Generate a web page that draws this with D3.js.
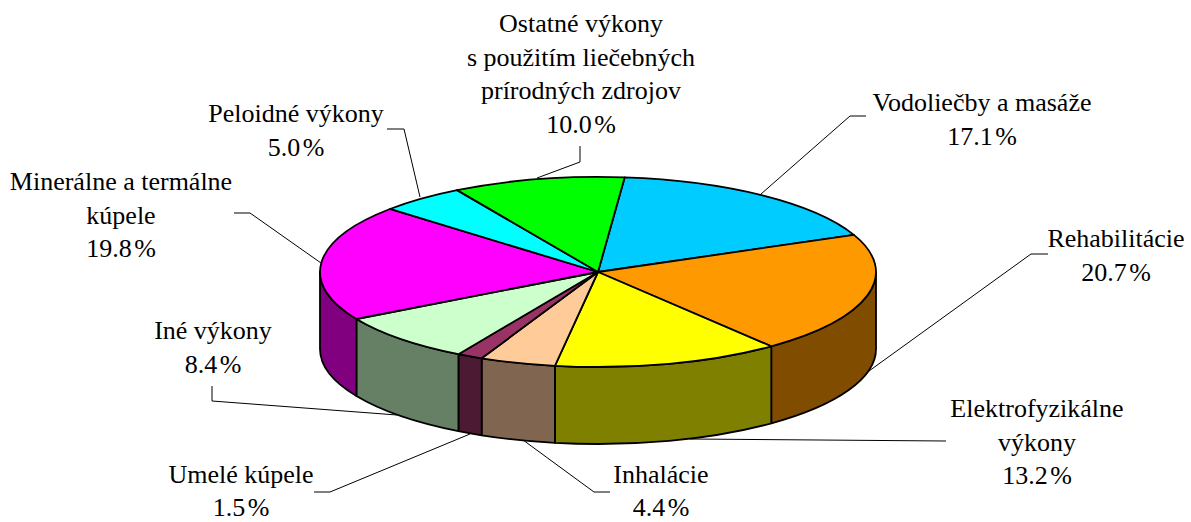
<!DOCTYPE html>
<html>
<head>
<meta charset="utf-8">
<script src="https://cdn.jsdelivr.net/npm/d3@7"></script>
<style>
	html, body { margin: 0; background: #fff; }
	svg { display: block; }
	text { font-family: "Liberation Serif", serif; font-size: 26px; fill: #000; text-anchor: middle; }
	.value { word-spacing: -4px; }
</style>
</head>
<body>
<div id="chart"></div>
<script>
	var names = [
		['Vodoliečby a masáže'],
		['Rehabilitácie'],
		['Elektrofyzikálne', 'výkony'],
		['Inhalácie'],
		['Umelé kúpele'],
		['Iné výkony'],
		['Minerálne a termálne', 'kúpele'],
		['Peloidné výkony'],
		['Ostatné výkony', 's použitím liečebných', 'prírodných zdrojov']
	];
	var values = [17.1, 20.7, 13.2, 4.4, 1.5, 8.4, 19.8, 5.0, 10.0];
	var topColors = ['#00ccff', '#ff9900', '#ffff00', '#ffcc99', '#993366', '#ccffcc', '#ff00ff', '#00ffff', '#00ff00'];
	var sideColors = ['#006680', '#804d00', '#808000', '#806650', '#4d1a33', '#668066', '#800080', '#008080', '#008000'];

	// label centre x, first baseline, then the leader line
	var labelX = [982, 1116, 1037, 661, 241, 213, 121, 296, 581];
	var labelY = [111, 247, 417, 482.5, 482.5, 339, 190, 122, 32];
	var leaders = [
		[[866, 116], [850, 116], [761, 194]],
		[[1048, 254], [1031, 254], [869, 371]],
		[[946, 441], [690, 439]],
		[[610, 492], [594, 492], [523, 440]],
		[[314, 492], [330, 492], [470, 434]],
		[[212, 386], [212, 401], [397, 415]],
		[[234, 213], [250, 213], [321, 263]],
		[[387, 129], [404, 129], [420, 197]],
		[[580, 146], [580, 162], [537, 178]]
	];

	var width = 1191,
		height = 522,
		lineHeight = 33.7;
	var pieBox = { cx: 598, cy: 272, rx: 278, ry: 95, depth: 77 };
	var rimWidth = 1.8;
	var start = 5.5 * Math.PI / 180;

	var svg = d3.select('#chart')
		.append('svg')
		.attr('width', width)
		.attr('height', height);

	var slices = d3.pie()
		.sort(null)
		.startAngle(start)
		.endAngle(start + 2 * Math.PI)(values);

	// Leader lines
	svg.append('g')
		.selectAll('path')
		.data(leaders)
		.enter().append('path')
		.attr('d', d3.line())
		.attr('fill', 'none')
		.attr('stroke', '#000')
		.attr('stroke-width', 1);

	function rimX(a) { return pieBox.cx + pieBox.rx * Math.sin(a); }
	function rimY(a) { return pieBox.cy - pieBox.ry * Math.cos(a); }

	// Only the part of a slice between 90 and 270 degrees shows a wall
	function wallPath(d) {
		var a0 = Math.max(d.startAngle, Math.PI / 2),
			a1 = Math.min(d.endAngle, 3 * Math.PI / 2);
		if (a1 <= a0) return null;
		var r = pieBox.rx + ' ' + pieBox.ry;
		return 'M' + rimX(a0) + ',' + rimY(a0)
			+ 'A' + r + ' 0 0 1 ' + rimX(a1) + ',' + rimY(a1)
			+ 'L' + rimX(a1) + ',' + (rimY(a1) + pieBox.depth)
			+ 'A' + r + ' 0 0 0 ' + rimX(a0) + ',' + (rimY(a0) + pieBox.depth)
			+ 'Z';
	}

	svg.append('g')
		.selectAll('path')
		.data(slices.filter(wallPath))
		.enter().append('path')
		.attr('d', wallPath)
		.attr('fill', d => sideColors[d.index])
		.attr('stroke', '#000')
		.attr('stroke-width', rimWidth)
		.attr('stroke-linejoin', 'round');

	// Top of the pie: a flat d3 arc squashed into an ellipse
	var arc = d3.arc()
		.innerRadius(0)
		.outerRadius(pieBox.rx);

	svg.append('g')
		.attr('transform', 'translate(' + pieBox.cx + ',' + pieBox.cy + ') scale(1,' + (pieBox.ry / pieBox.rx) + ')')
		.selectAll('path')
		.data(slices)
		.enter().append('path')
		.attr('d', arc)
		.attr('fill', d => topColors[d.index])
		.attr('stroke', '#000')
		.attr('stroke-width', rimWidth)
		.attr('stroke-linejoin', 'round')
		.attr('vector-effect', 'non-scaling-stroke');

	// Labels
	var labels = svg.append('g')
		.selectAll('text')
		.data(names)
		.enter().append('text')
		.attr('x', (d, i) => labelX[i])
		.attr('y', (d, i) => labelY[i]);

	labels.selectAll('tspan')
		.data((d, i) => d.map(t => ({ t: t, x: labelX[i], cls: null }))
			.concat({ t: values[i].toFixed(1) + ' %', x: labelX[i], cls: 'value' }))
		.enter().append('tspan')
		.attr('class', d => d.cls)
		.attr('x', d => d.x)
		.attr('dy', (d, i) => i === 0 ? 0 : lineHeight)
		.text(d => d.t);
</script>
</body>
</html>
